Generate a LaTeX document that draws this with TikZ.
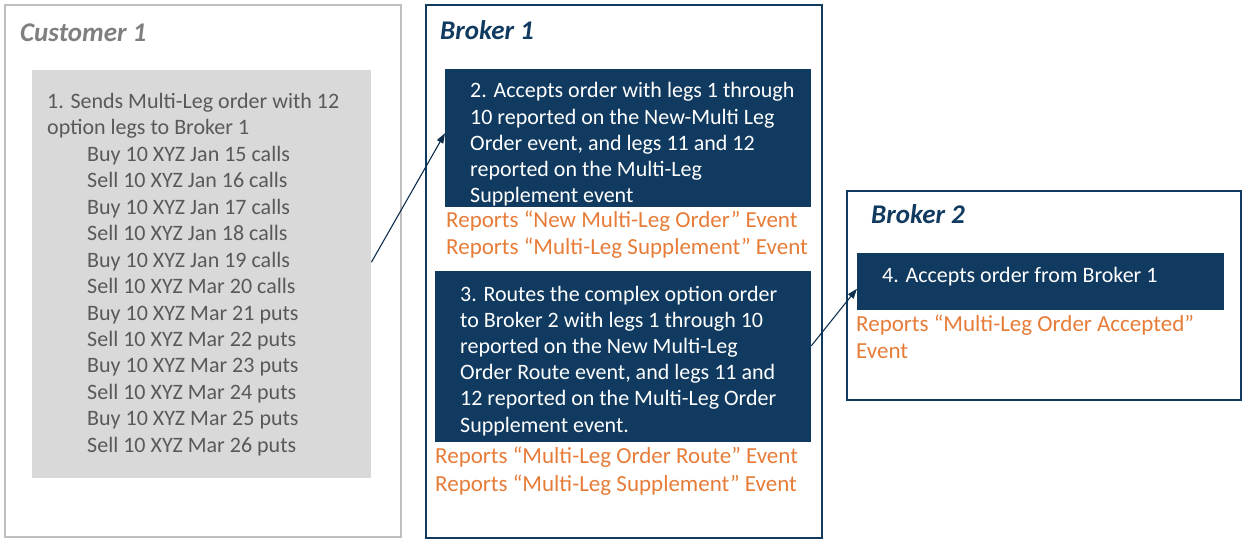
\documentclass[tikz,border=0pt]{standalone}
\usepackage{fontspec}
\setmainfont{Carlito}
\usepackage{tikz}
\usetikzlibrary{positioning,arrows.meta,calc}
\definecolor{custgrey}{RGB}{191,191,191}
\definecolor{custfill}{RGB}{217,217,217}
\definecolor{custtext}{RGB}{89,89,89}
\definecolor{custtitle}{RGB}{127,127,127}
\definecolor{brokerblue}{RGB}{16,58,96}
\definecolor{reportorange}{RGB}{230,124,56}

\begin{document}
\begin{tikzpicture}[x=1pt, y=1pt,
  frame/.style={draw, line width=1.6pt, anchor=north west, inner sep=0pt},
  stepbox/.style={fill=brokerblue, anchor=north west, inner sep=0pt},
  boxtext/.style={anchor=north west, inner sep=0pt, align=left, execute at begin node=\strut, font=\fontsize{22}{26.2}\selectfont},
  reporttext/.style={boxtext, text=reportorange, font=\fontsize{23}{27.5}\selectfont},
  title/.style={anchor=base west, inner sep=0pt, font=\fontsize{27}{30}\selectfont\bfseries\itshape},
  flow/.style={draw=brokerblue!80!black, line width=1.1pt, -{Triangle[length=10pt, width=7pt]}}]
\useasboundingbox (0,0) rectangle (1242,-540);

% customer
\node[frame, draw=custgrey, minimum width=396, minimum height=532] (cust) at (4,-4) {};
\node[title, text=custtitle] (custt) at (20,-41.5) {Customer 1};
\node[anchor=north west, inner sep=0pt, fill=custfill, minimum width=339, minimum height=408] (order) at (32,-70) {};
\node[boxtext, text=custtext, font=\fontsize{22}{26.45}\selectfont] (ordert) at (47,-93) {1. Sends Multi-Leg order with 12\\option legs to Broker 1\\
  \hspace*{40pt}Buy 10 XYZ Jan 15 calls\\\hspace*{40pt}Sell 10 XYZ Jan 16 calls\\
  \hspace*{40pt}Buy 10 XYZ Jan 17 calls\\\hspace*{40pt}Sell 10 XYZ Jan 18 calls\\
  \hspace*{40pt}Buy 10 XYZ Jan 19 calls\\\hspace*{40pt}Sell 10 XYZ Mar 20 calls\\
  \hspace*{40pt}Buy 10 XYZ Mar 21 puts\\\hspace*{40pt}Sell 10 XYZ Mar 22 puts\\
  \hspace*{40pt}Buy 10 XYZ Mar 23 puts\\\hspace*{40pt}Sell 10 XYZ Mar 24 puts\\
  \hspace*{40pt}Buy 10 XYZ Mar 25 puts\\\hspace*{40pt}Sell 10 XYZ Mar 26 puts};

% broker 1
\node[frame, draw=brokerblue, minimum width=396, minimum height=533] (brk1) at (425,-4) {};
\node[title, text=brokerblue] (brk1t) at (440,-39.5) {Broker 1};
\node[stepbox, minimum width=366, minimum height=138] (accept) at (445,-69) {};
\node[boxtext, text=white] (acceptt) at (470,-82.4) {2. Accepts order with legs 1 through\\10 reported on the New-Multi Leg\\Order event, and legs 11 and 12\\reported on the Multi-Leg\\Supplement event};
\node[reporttext, font=\fontsize{23}{27}\selectfont] (acceptr) at (446,-211) {Reports “New Multi-Leg Order” Event\\Reports “Multi-Leg Supplement” Event};
\node[stepbox, minimum width=376, minimum height=171] (route) at (435,-271) {};
\node[boxtext, text=white] (routet) at (460,-285.7) {3. Routes the complex option order\\to Broker 2 with legs 1 through 10\\reported on the New Multi-Leg\\Order Route event, and legs 11 and\\12 reported on the Multi-Leg Order\\Supplement event.};
\node[reporttext] (router) at (435,-447.1) {Reports “Multi-Leg Order Route” Event\\Reports “Multi-Leg Supplement” Event};

% broker 2
\node[frame, draw=brokerblue, minimum width=394, minimum height=209] (brk2) at (846,-190) {};
\node[title, text=brokerblue] (brk2t) at (871,-223) {Broker 2};
\node[stepbox, minimum width=367, minimum height=57] (receive) at (857,-253) {};
\node[boxtext, text=white] (receivet) at (882,-263.7) {4. Accepts order from Broker 1};
\node[reporttext, font=\fontsize{23}{27}\selectfont] (receiver) at (856,-314.3) {Reports “Multi-Leg Order Accepted”\\Event};

% connectors
\draw[flow] ([yshift=12pt]order.east) -- ([yshift=5pt]accept.west);
\draw[flow] ([yshift=11pt]route.east) -- ([yshift=-7pt]receive.west);
\end{tikzpicture}
\end{document}
